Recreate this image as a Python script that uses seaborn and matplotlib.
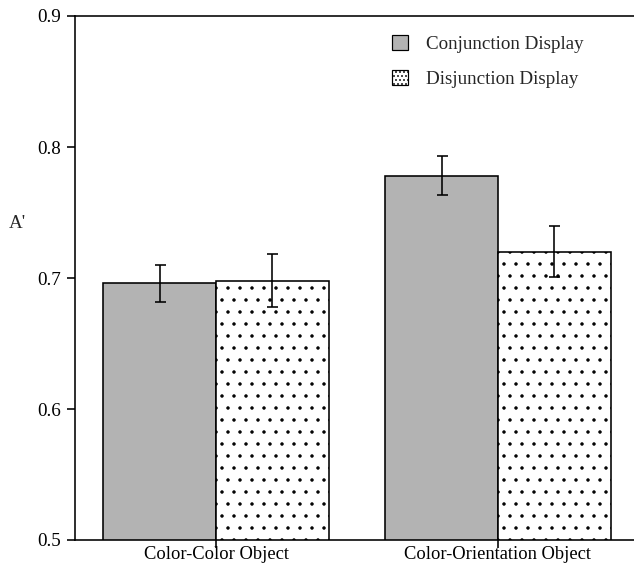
import matplotlib
matplotlib.use("Agg")
import matplotlib.pyplot as plt
import seaborn as sns
import pandas as pd
from matplotlib.patches import Patch

categories = ["Color-Color Object", "Color-Orientation Object"]
displays = ["Conjunction Display", "Disjunction Display"]
conj_values = [0.696, 0.778]
disj_values = [0.698, 0.720]
conj_errors = [0.014, 0.015]
disj_errors = [0.020, 0.0195]
y_ticks = [0.5, 0.6, 0.7, 0.8, 0.9]
y_tick_labels = ["0.5", "0.6", "0.7", "0.8", "0.9"]
y_label = "A'"

sns.set_theme(style="ticks")
plt.rcParams["font.family"] = ["Liberation Serif", "DejaVu Serif"]
plt.rcParams["hatch.linewidth"] = 1.0
plt.rcParams["hatch.color"] = "black"

df = pd.DataFrame({
    "category": categories * 2,
    "display": [displays[0]] * 2 + [displays[1]] * 2,
    "value": conj_values + disj_values,
})
errors = {displays[0]: conj_errors, displays[1]: disj_errors}

DPI = 72
W, H = 634, 565
fig = plt.figure(figsize=(W / DPI, H / DPI), dpi=DPI)
ax = fig.add_axes([75 / W, 25 / H, 564 / W, 524 / H])

GRAY = "#b3b3b3"
LW = 1.6
sns.barplot(data=df, x="category", y="value", hue="display",
            order=categories, hue_order=displays,
            palette=[GRAY, "white"], saturation=1, edgecolor="black",
            linewidth=LW, errorbar=None, width=0.8, ax=ax, legend=False)

for disp, cont in zip(displays, ax.containers):
    xs = [b.get_x() + b.get_width() / 2 for b in cont]
    ys = [b.get_height() for b in cont]
    if disp == displays[1]:
        for b in cont:
            b.set_hatch(".")
    ax.errorbar(xs, ys, yerr=errors[disp], fmt="none", ecolor="black",
                elinewidth=LW, capsize=5.5, capthick=LW, zorder=5)

ax.set_ylim(0.5, 0.9)
ax.set_xlim(-0.5, 1.5)
ax.set_yticks(y_ticks)
ax.set_yticklabels(y_tick_labels)
ax.set_xlabel("")
ax.set_ylabel(y_label, rotation=0, fontsize=19, ha="center", va="center")
ax.yaxis.set_label_coords((17 - 75) / 564, (540 - 223) / 524)

ax.spines["right"].set_visible(False)
for s in ["left", "bottom", "top"]:
    ax.spines[s].set_linewidth(LW)
    ax.spines[s].set_color("black")
ax.tick_params(axis="both", direction="out", length=8, width=LW,
               colors="black")
ax.tick_params(axis="y", pad=6, labelsize=19)
ax.tick_params(axis="x", pad=-2, labelsize=18.5)

handles = [Patch(facecolor=GRAY, edgecolor="black", linewidth=1.2),
           Patch(facecolor="white", edgecolor="black", linewidth=1.2, hatch="...")]
fig.legend(handles, displays, loc="upper left",
           bbox_to_anchor=(392 / W, 1 - 35 / H), frameon=False,
           fontsize=19, handlelength=0.85, handleheight=0.85,
           handletextpad=0.95, labelspacing=0.9, borderpad=0,
           borderaxespad=0)

fig.savefig("out.png", dpi=DPI)
